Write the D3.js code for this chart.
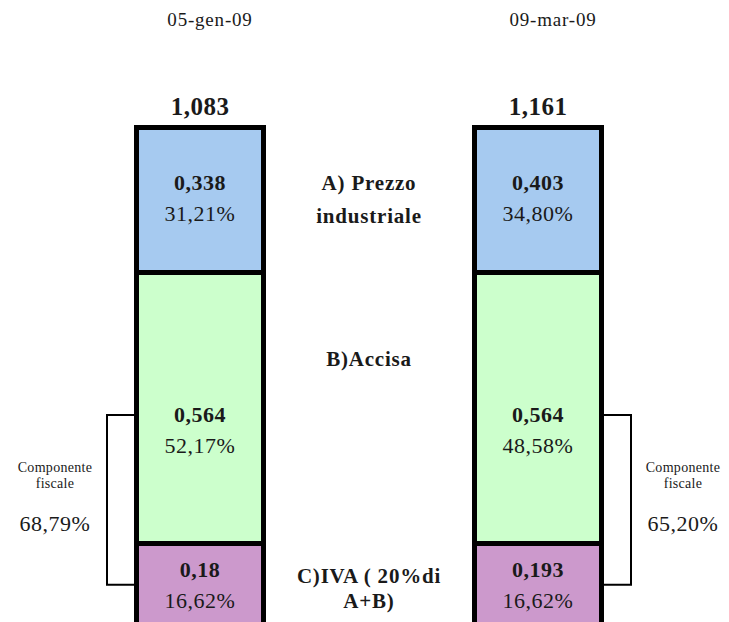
<!DOCTYPE html>
<html>
<head>
<meta charset="utf-8">
<script src="https://cdn.jsdelivr.net/npm/d3@7"></script>
<style>
  body { margin: 0; background: #fff; }
</style>
</head>
<body>
<svg id="drawing"></svg>
<script>
// dati
const dates = ['05-gen-09', '09-mar-09'];
const components = ['A) Prezzo|industriale', 'B)Accisa', 'C)IVA ( 20%di|A+B)'];
const prezzo = [0.338, 0.403];
const accisa = [0.564, 0.564];
const iva = [0.180, 0.193];
const totali = ['1,083', '1,161'];
const valueLabels = [['0,338', '0,564', '0,18'], ['0,403', '0,564', '0,193']];
const pctLabels = [['31,21%', '52,17%', '16,62%'], ['34,80%', '48,58%', '16,62%']];
const fiscaleLabels = ['68,79%', '65,20%'];
const colors = ['#a6caf0', '#ccffcc', '#cc99cc'];

const FONT = "'Liberation Serif', 'DejaVu Serif', serif";

const config = {
    width: 729,
    height: 622,
    barWidth: 127,
    // posizioni dei bordi delle fasce (basso, C|B, B|A, alto)
    stops: [626, 543.5, 272.5, 127.5],
    valueDy: [-10, 14, -8],
    catDy: [-10, -42, -2],
    catLine: [33, 0, 25]
};

const svg = d3.select('#drawing')
    .attr('width', config.width)
    .attr('height', config.height)
    .attr('font-family', FONT)
    .style('font-family', FONT);

const xscale = d3.scalePoint()
    .domain(dates)
    .range([200, 538]);

function label(parent, x, y, size, bold, txt, spacing) {
    return parent.append('text')
        .attr('x', x)
        .attr('y', y)
        .attr('text-anchor', 'middle')
        .attr('fill', '#1a1a1a')
        .style('font-family', FONT)
        .style('font-size', size + 'px')
        .style('font-weight', bold ? 'bold' : 'normal')
        .style('letter-spacing', (spacing || 0) + 'px')
        .text(txt);
}

dates.forEach((date, i) => {
    const vals = [iva[i], accisa[i], prezzo[i]];   // dal basso verso l'alto
    const cum = [0, vals[0], vals[0] + vals[1], vals[0] + vals[1] + vals[2]];
    const yscale = d3.scaleLinear().domain(cum).range(config.stops);
    const cx = xscale(date);

    // ordine A, B, C (dall'alto)
    const segs = [
        { y0: cum[2], y1: cum[3] },
        { y0: cum[1], y1: cum[2] },
        { y0: cum[0], y1: cum[1] }
    ];

    const g = svg.append('g');

    g.selectAll('rect')
        .data(segs)
        .join('rect')
        .attr('x', cx - config.barWidth / 2)
        .attr('y', d => yscale(d.y1))
        .attr('width', config.barWidth)
        .attr('height', d => yscale(d.y0) - yscale(d.y1))
        .attr('fill', (d, k) => colors[k])
        .attr('stroke', '#000')
        .attr('stroke-width', 5);

    segs.forEach((d, k) => {
        const mid = (yscale(d.y0) + yscale(d.y1)) / 2;
        label(g, cx, mid + config.valueDy[k], 22, true, valueLabels[i][k], 0.5);
        label(g, cx, mid + config.valueDy[k] + 31, 22, false, pctLabels[i][k], 0.5);
    });

    // totale
    label(g, cx, 115, 25, true, totali[i], 0.5);

    // data
    label(g, cx + (i === 0 ? 10 : 15), 26, 19, false, date, 0.8);

    // parentesi componente fiscale
    const side = i === 0 ? -1 : 1;
    const edge = cx + side * (config.barWidth / 2 + 2.5);
    const bx = edge + side * 27;
    const yTop = yscale(cum[1] + vals[1] * 0.474);
    const yBot = yscale(cum[0] + vals[0] * 0.5);
    g.append('path')
        .attr('d', `M${edge},${yTop}H${bx}V${yBot}H${edge}`)
        .attr('fill', 'none')
        .attr('stroke', '#000')
        .attr('stroke-width', 2);

    const tx = bx + side * 52;
    label(g, tx, 472, 14, false, 'Componente', 0.3);
    label(g, tx, 488, 14, false, 'fiscale', 0.3);
    label(g, tx, 531, 22, false, fiscaleLabels[i], 0.5);

    // etichette componenti (solo una volta, al centro)
    if (i === 0) {
        const mx = (xscale(dates[0]) + xscale(dates[1])) / 2;
        segs.forEach((d, k) => {
            const mid = (yscale(d.y0) + yscale(d.y1)) / 2;
            components[k].split('|').forEach((line, l) => {
                label(svg, mx, mid + config.catDy[k] + l * config.catLine[k], 21, true, line, 0.8);
            });
        });
    }
});
</script>
</body>
</html>
